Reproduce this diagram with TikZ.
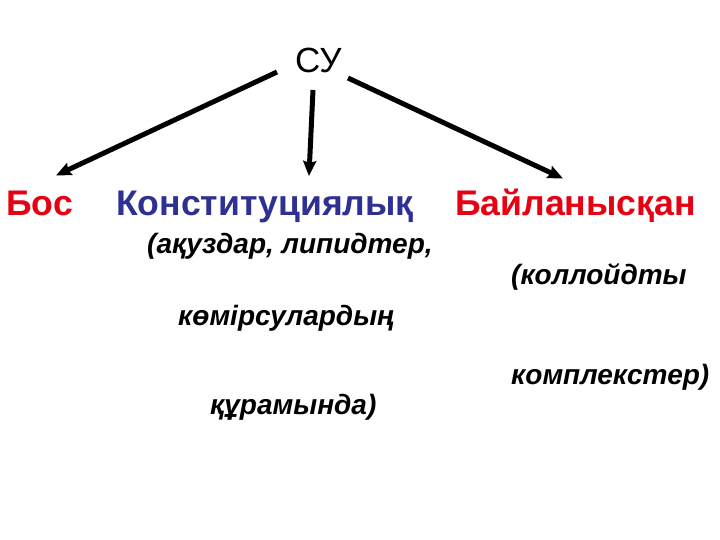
\documentclass[tikz,border=0pt]{standalone}
\usepackage{fontspec}
\setmainfont{Liberation Sans}
\usetikzlibrary{arrows.meta}
\definecolor{myred}{RGB}{230,0,18}
\definecolor{myblue}{RGB}{46,49,146}
\tikzset{
  big/.style={inner sep=0pt, anchor=base west, font=\fontsize{35.6}{40}\selectfont\bfseries},
  sub/.style={inner sep=0pt, anchor=base west, font=\fontsize{28}{32}\selectfont\bfseries\itshape, text=black},
  arr/.style={line width=5pt, -{Stealth[length=15pt,width=13pt,inset=2pt]}, shorten >=-1pt}
}
\begin{document}
\begin{tikzpicture}[x=1pt,y=-1pt]
\useasboundingbox (0,0) rectangle (720,540);
\node[inner sep=0pt, anchor=base west, font=\fontsize{35}{40}\selectfont] (su) at (295,73) {СУ};
\node[big, text=myred] (bos) at (6,215) {Бос};
\node[big, text=myblue] (kon) at (116,215) {Конституциялық};
\node[big, text=myred] (bay) at (455,215) {Байланысқан};
\node[sub] (p1) at (147,253) {(ақуздар, липидтер,};
\node[sub] (p2) at (178,325) {көмірсулардың};
\node[sub] (p3) at (210,414) {құрамында)};
\node[sub] (p4) at (511,284) {(коллойдты};
\node[sub] (p5) at (511,384) {комплекстер)};
\coordinate (s1) at (277,72);
\coordinate (t1) at (57,175);
\coordinate (s2) at (313,90);
\coordinate (t2) at (309,175);
\coordinate (s3) at (348,78);
\coordinate (t3) at (562,178);
\draw[arr] (s1) -- (t1);
\draw[arr] (s2) -- (t2);
\draw[arr] (s3) -- (t3);
\end{tikzpicture}
\end{document}
